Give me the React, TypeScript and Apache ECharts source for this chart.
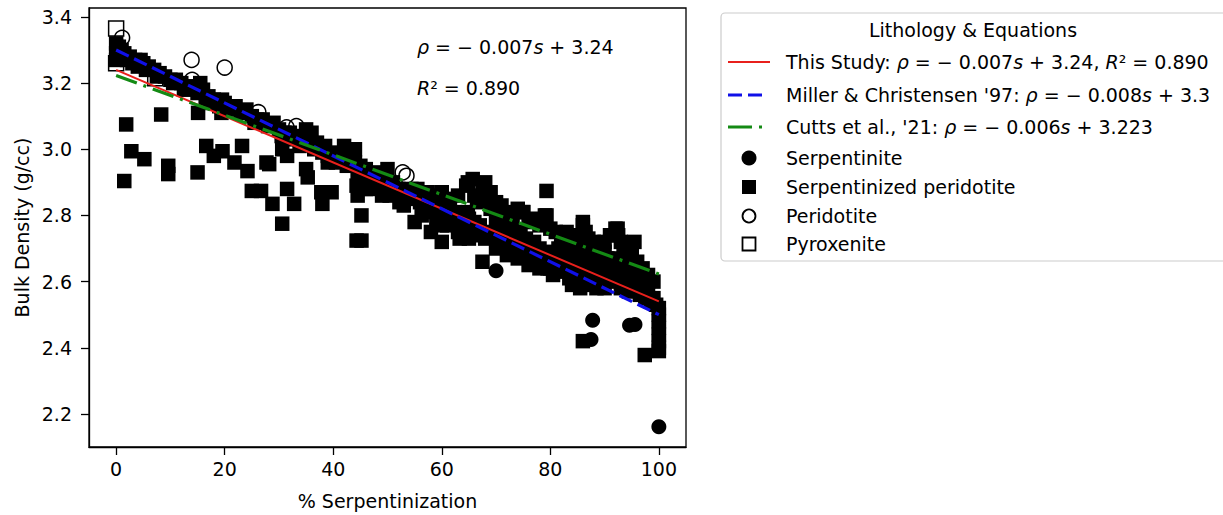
import React, { useEffect, useRef } from "react";
import * as echarts from "echarts";

const FONT = '"DejaVu Sans", "Liberation Sans", sans-serif';

const X_TICKS = [0, 20, 40, 60, 80, 100];
const Y_TICKS = [2.2, 2.4, 2.6, 2.8, 3.0, 3.2, 3.4];

// [% serpentinization, bulk density]
const SERPENTINITE = [
  [70, 2.633], [87.8, 2.483], [87.5, 2.425], [94.6, 2.468], [95.6, 2.47], [100, 2.161],
];

const SERP_PERIDOTITE = [
  // dense band
  [0, 3.32], [0, 3.29], [0, 3.27], [0.5, 3.31], [1, 3.3], [1, 3.28], [1.5, 3.29], [2, 3.27], [2.5, 3.28],
  [3, 3.26], [3.5, 3.27], [4, 3.25], [4.5, 3.27], [5, 3.26], [5.5, 3.24], [6, 3.25], [7, 3.24], [7.5, 3.22],
  [8, 3.23], [9, 3.22], [10, 3.21], [10.5, 3.2], [11, 3.21], [12, 3.2], [12.5, 3.18], [13, 3.19], [14, 3.19],
  [15, 3.17], [15.5, 3.2], [16, 3.18], [16.5, 3.15], [17, 3.16], [17.5, 3.14], [18, 3.15], [19, 3.13],
  [19.5, 3.15], [20, 3.14], [21, 3.12], [22, 3.13], [23, 3.11], [24, 3.12], [25, 3.1], [25.5, 3.08],
  [26, 3.09], [27, 3.09], [28, 3.07], [29, 3.08], [30, 3.06], [30.5, 3.04], [31, 3.05], [32, 3.05],
  [33, 3.03], [34, 3.04], [35, 3.02], [35, 3.06], [36, 3.05], [36.5, 3.0], [37, 3.02], [38, 2.99],
  [38.5, 3.01], [39, 2.98], [40, 2.99], [40.5, 2.96], [41, 2.97], [42, 2.98], [42.5, 2.95], [43, 2.97],
  [44, 2.96], [44.5, 2.93], [45, 2.95], [46, 2.94], [46.5, 2.91], [47, 2.92], [48, 2.93], [48.5, 2.9],
  [49, 2.91], [50, 2.89], [51, 2.9], [51.5, 2.87], [52, 2.88], [53, 2.86], [54, 2.87], [55, 2.85],
  [55.5, 2.88], [56, 2.84], [57, 2.85], [58, 2.83], [58.5, 2.86], [59, 2.82], [60, 2.83], [60.5, 2.8],
  [61, 2.82], [62, 2.79], [62.5, 2.81], [63, 2.78], [64, 2.8], [64.5, 2.77], [65, 2.79], [65.5, 2.76],
  [66, 2.78], [66.5, 2.84], [67, 2.77], [67.5, 2.88], [68, 2.9], [68, 2.86], [68.5, 2.75], [69, 2.82],
  [69.5, 2.74], [70, 2.78], [70.5, 2.8], [71, 2.72], [71.5, 2.76], [72, 2.74], [72.5, 2.7], [73, 2.77],
  [73.5, 2.72], [74, 2.71], [74.5, 2.75], [75, 2.69], [75.5, 2.73], [76, 2.7], [76.5, 2.67], [77, 2.72],
  [77.5, 2.68], [78, 2.7], [78.5, 2.66], [79, 2.69], [79.5, 2.64], [80, 2.68], [80.5, 2.62], [81, 2.66],
  [81.5, 2.7], [82, 2.65], [82.5, 2.63], [83, 2.67], [83.5, 2.61], [84, 2.64], [84.5, 2.68], [85, 2.62],
  [85.5, 2.6], [86, 2.65], [86.5, 2.7], [87, 2.63], [87.5, 2.6], [88, 2.66], [88.5, 2.62], [89, 2.64],
  [89.5, 2.6], [90, 2.63], [90.5, 2.67], [91, 2.61], [91.5, 2.65], [92, 2.6], [92.5, 2.63], [93, 2.58],
  [93.5, 2.62], [94, 2.6], [94.5, 2.57], [95, 2.61], [95.5, 2.58], [96, 2.6], [96.5, 2.56], [97, 2.58],
  [97.5, 2.55], [98, 2.57], [98.5, 2.54], [99, 2.55], [99.5, 2.53],
  [100, 2.52], [100, 2.5], [100, 2.48], [100, 2.46], [100, 2.44], [100, 2.42], [100, 2.4], [100, 2.39],
  // upper part of band, 60-100
  [60, 2.87], [61.5, 2.85], [63, 2.86], [64.5, 2.89], [66, 2.86], [69, 2.87], [70, 2.84], [71, 2.83],
  [72, 2.81], [73, 2.8], [74, 2.82], [75, 2.81], [76, 2.78], [77, 2.79], [78, 2.77], [79, 2.8],
  [79.3, 2.874], [80, 2.76], [81, 2.75], [82, 2.74], [83, 2.75], [84, 2.73], [85, 2.74], [86, 2.77],
  [86.5, 2.75], [87, 2.73], [88, 2.72], [89, 2.71], [90, 2.72], [91, 2.74], [92, 2.76], [92.5, 2.74],
  [93, 2.72], [93.5, 2.7], [94, 2.69], [95, 2.68], [95.5, 2.72], [96, 2.66], [97, 2.64], [98, 2.62], [99, 2.6],
  // middle of band
  [45, 2.9], [47, 2.88], [49, 2.86], [53, 2.83], [57, 2.81], [59, 2.79], [61, 2.77], [63, 2.75], [65, 2.73],
  [66, 2.74], [68, 2.73], [70, 2.7], [72, 2.68], [74, 2.67], [76, 2.65], [78, 2.64], [80, 2.64],
  [82, 2.7], [84, 2.7], [86, 2.68], [88, 2.69], [90, 2.69], [92, 2.67], [94, 2.65], [96, 2.63], [98, 2.6],
  [84, 2.59], [85.5, 2.58], [87, 2.59], [88.5, 2.58], [90, 2.58],
  // scattered below the band
  [1.85, 3.075], [2.8, 2.994], [5.2, 2.97], [1.5, 2.904], [8.3, 3.105], [9.6, 2.95], [9.6, 2.925],
  [15.1, 3.11], [15, 2.93], [16.6, 3.01], [18, 2.98], [19.6, 2.994], [19.4, 3.11], [21.8, 2.96],
  [23.2, 3.01], [24.2, 2.934], [25, 2.874], [26.7, 2.874], [27.7, 2.96], [28.2, 2.955], [28.8, 2.835],
  [30.6, 2.775], [30.6, 3.0], [31.5, 2.98], [31.5, 2.88], [32.8, 2.835], [33.8, 3.01], [35, 2.94],
  [35.3, 2.915], [37.8, 2.87], [38, 2.835], [39.7, 2.87], [39, 2.96], [42, 3.01], [43, 2.96], [44, 3.0],
  [44.3, 2.89], [44.5, 2.86], [45.2, 2.8], [45.2, 2.724], [44.3, 2.724], [46, 2.88], [47, 2.91],
  [50, 2.94], [50.4, 2.86], [52.2, 2.84], [54.4, 2.88], [55, 2.78], [56.3, 2.8], [57.4, 2.87],
  [58, 2.75], [60, 2.77], [60, 2.72], [61, 2.83], [63.3, 2.73], [64.8, 2.9], [64.8, 2.81], [65.7, 2.91],
  [67.5, 2.66], [75, 2.81], [79.3, 2.8], [86, 2.78], [92.4, 2.76], [86, 2.42], [97.4, 2.378],
];

const PERIDOTITE = [
  [1.1, 3.337], [0.5, 3.31], [13.9, 3.27], [20, 3.247], [14, 3.21], [26.2, 3.112], [31.4, 3.066],
  [33.2, 3.07], [52.8, 2.93], [53.5, 2.92],
];

const PYROXENITE = [
  [0, 3.365], [0, 3.26], [0.3, 3.3], [7.2, 3.215],
];

// Regression lines (endpoints at 0 and 100 % serpentinization)
const THIS_STUDY = [[0, 3.24], [100, 2.54]];
const MILLER_97 = [[0, 3.3], [100, 2.5]];
const CUTTS_21 = [[0, 3.223], [100, 2.623]];

const RICH = {
  n: { fontFamily: FONT, fontSize: 19, fill: "#000" },
  i: { fontFamily: FONT, fontSize: 19, fontStyle: "italic", fill: "#000" },
};

function txt(x: number, y: number, text: string, extra: any = {}) {
  return {
    type: "text",
    x,
    y,
    silent: true,
    style: {
      text,
      fill: "#000",
      font: `19px ${FONT}`,
      verticalAlign: "middle",
      rich: RICH,
      ...extra,
    },
  };
}

export default function App() {
  const ref = useRef<HTMLDivElement>(null);
  useEffect(() => {
    if (!ref.current) return;
    const chart = echarts.init(ref.current, undefined, { renderer: "svg" });
    const LX = 728, LX2 = 770, MX = 749, TX = 786;
    const rows = [62, 95, 127, 158, 187, 216, 244];
    const option: any = {
      animation: false,
      backgroundColor: "#fff",
      textStyle: { fontFamily: FONT },
      grid: {
        left: 89, top: 8, width: 597, height: 441,
        show: true, borderColor: "#000", borderWidth: 1.3,
      },
      xAxis: {
        type: "value", min: -5, max: 105,
        axisLine: { show: true, onZero: false, lineStyle: { color: "#000", width: 1.3 } },
        axisTick: { show: true, length: 8, customValues: X_TICKS, lineStyle: { color: "#000", width: 1.3 } },
        axisLabel: { customValues: X_TICKS, color: "#000", fontSize: 19, margin: 12, fontFamily: FONT },
        splitLine: { show: false },
        name: "% Serpentinization", nameLocation: "middle", nameGap: 44,
        nameTextStyle: { fontSize: 19, color: "#000", fontFamily: FONT },
      },
      yAxis: {
        type: "value", min: 2.1, max: 3.427,
        axisLine: { show: true, onZero: false, lineStyle: { color: "#000", width: 1.3 } },
        axisTick: { show: true, length: 8, customValues: Y_TICKS, lineStyle: { color: "#000", width: 1.3 } },
        axisLabel: {
          customValues: Y_TICKS, color: "#000", fontSize: 19, margin: 17, fontFamily: FONT,
          formatter: (v: number) => v.toFixed(1),
        },
        splitLine: { show: false },
        name: "Bulk Density (g/cc)", nameLocation: "middle", nameGap: 58,
        nameTextStyle: { fontSize: 19, color: "#000", fontFamily: FONT },
      },
      series: [
        {
          name: "Serpentinite", type: "scatter", data: SERPENTINITE, symbol: "circle", symbolSize: 15,
          itemStyle: { color: "#000", opacity: 1 },
        },
        {
          name: "Serpentinized peridotite", type: "scatter", data: SERP_PERIDOTITE, symbol: "rect", symbolSize: 14.5,
          itemStyle: { color: "#000", opacity: 1 },
        },
        {
          name: "Peridotite", type: "scatter", data: PERIDOTITE, symbol: "circle", symbolSize: 15,
          itemStyle: { color: "rgba(0,0,0,0)", borderColor: "#000", borderWidth: 1.5, opacity: 1 },
        },
        {
          name: "Pyroxenite", type: "scatter", data: PYROXENITE, symbol: "rect", symbolSize: 15,
          itemStyle: { color: "rgba(0,0,0,0)", borderColor: "#000", borderWidth: 1.5, opacity: 1 },
        },
        {
          name: "This Study", type: "line", data: THIS_STUDY, showSymbol: false, symbol: "none",
          lineStyle: { color: "#e8201c", width: 2 },
        },
        {
          name: "Miller & Christensen '97", type: "line", data: MILLER_97, showSymbol: false, symbol: "none",
          lineStyle: { color: "#1010e8", width: 3.2, type: [14, 6] },
        },
        {
          name: "Cutts et al., '21", type: "line", data: CUTTS_21, showSymbol: false, symbol: "none",
          lineStyle: { color: "#148a14", width: 3.2, type: [22, 7, 3, 7] },
        },
      ],
      graphic: [
        // in-plot annotation
        txt(417, 47, "{i|ρ}{n| = − 0.007}{i|s}{n| + 3.24}"),
        txt(417, 88, "{i|R}{n|² = 0.890}"),
        // legend box
        {
          type: "rect", silent: true,
          shape: { x: 721, y: 13, width: 520, height: 248, r: 4 },
          style: { fill: "#fff", stroke: "#cccccc", lineWidth: 1.2 },
        },
        txt(973, 30, "Lithology & Equations", { textAlign: "center" }),
        {
          type: "line", silent: true, shape: { x1: LX, y1: rows[0], x2: LX2, y2: rows[0] },
          style: { stroke: "#e8201c", lineWidth: 2 },
        },
        {
          type: "line", silent: true, shape: { x1: LX, y1: rows[1], x2: LX2 - 6, y2: rows[1] },
          style: { stroke: "#1010e8", lineWidth: 3.2, lineDash: [14, 6] },
        },
        {
          type: "line", silent: true, shape: { x1: LX, y1: rows[2], x2: LX2 - 6, y2: rows[2] },
          style: { stroke: "#148a14", lineWidth: 3.2, lineDash: [24, 7, 3, 7] },
        },
        {
          type: "circle", silent: true, shape: { cx: MX, cy: rows[3], r: 7.5 },
          style: { fill: "#000" },
        },
        {
          type: "rect", silent: true, shape: { x: MX - 7, y: rows[4] - 7, width: 14, height: 14 },
          style: { fill: "#000" },
        },
        {
          type: "circle", silent: true, shape: { cx: MX, cy: rows[5], r: 6.5 },
          style: { fill: "none", stroke: "#000", lineWidth: 1.8 },
        },
        {
          type: "rect", silent: true, shape: { x: MX - 6.5, y: rows[6] - 6.5, width: 13, height: 13 },
          style: { fill: "none", stroke: "#000", lineWidth: 1.8 },
        },
        txt(TX, rows[0], "{n|This Study: }{i|ρ}{n| = − 0.007}{i|s}{n| + 3.24, }{i|R}{n|² = 0.890}"),
        txt(TX, rows[1], "{n|Miller & Christensen '97: }{i|ρ}{n| = − 0.008}{i|s}{n| + 3.3}"),
        txt(TX, rows[2], "{n|Cutts et al., '21: }{i|ρ}{n| = − 0.006}{i|s}{n| + 3.223}"),
        txt(TX, rows[3], "Serpentinite"),
        txt(TX, rows[4], "Serpentinized peridotite"),
        txt(TX, rows[5], "Peridotite"),
        txt(TX, rows[6], "Pyroxenite"),
      ],
    };
    chart.setOption(option);
    return () => chart.dispose();
  }, []);
  return (
    <div
      ref={ref}
      style={{ position: "fixed", left: 0, top: 0, width: 1223, height: 515, background: "#fff" }}
    />
  );
}
